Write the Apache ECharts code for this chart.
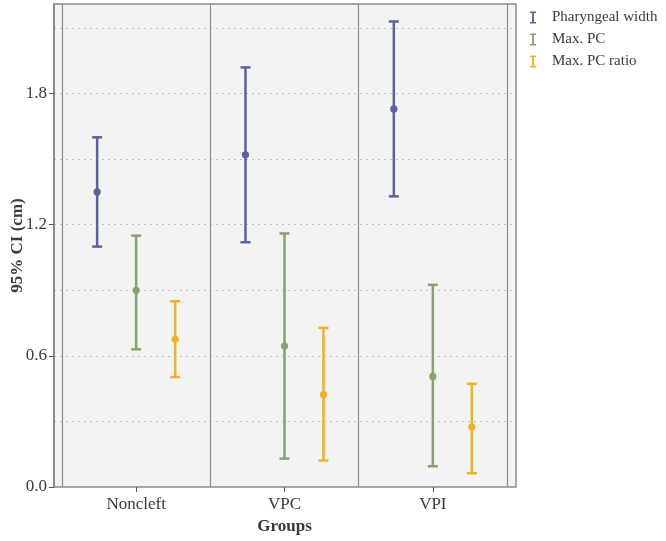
<!DOCTYPE html>
<html>
<head>
<meta charset="utf-8">
<script src="https://cdn.jsdelivr.net/npm/echarts@6/dist/echarts.min.js"></script>
<style>
  html, body { margin: 0; padding: 0; background: #fff; }
  #chart { width: 666px; height: 541px; }
</style>
</head>
<body>
<div id="chart"></div>
<script>
var groups = ['Noncleft', 'VPC', 'VPI'];
var seriesNames = ['Pharyngeal width', 'Max. PC', 'Max. PC ratio'];
var yTicks = [0, 0.6, 1.2, 1.8];

// mean, lower and upper bound of the 95% CI
var widthMean = [1.35, 1.52, 1.73];
var widthLow = [1.10, 1.12, 1.33];
var widthHigh = [1.60, 1.92, 2.13];

var pcMean = [0.90, 0.645, 0.506];
var pcLow = [0.63, 0.13, 0.095];
var pcHigh = [1.15, 1.16, 0.925];

var ratioMean = [0.676, 0.423, 0.274];
var ratioLow = [0.503, 0.121, 0.063];
var ratioHigh = [0.85, 0.728, 0.472];

var colors = ['#5b61a0', '#87a26b', '#f4b01e'];
var offsets = [-0.263, 0, 0.263];

function rows(mean, low, high) {
    return groups.map(function (g, i) {
        return [i, mean[i], low[i], high[i]];
    });
}

var allData = [
    rows(widthMean, widthLow, widthHigh),
    rows(pcMean, pcLow, pcHigh),
    rows(ratioMean, ratioLow, ratioHigh)
];

function makeRender(k) {
    return function (params, api) {
        var band = api.size([1, 0])[0];
        var dx = offsets[k] * band;
        var mid = api.coord([api.value(0), api.value(1)]);
        var lo = api.coord([api.value(0), api.value(2)]);
        var hi = api.coord([api.value(0), api.value(3)]);
        var x = mid[0] + dx;
        var cap = 5;
        var st = { stroke: colors[k], lineWidth: 2.5 };
        return {
            type: 'group',
            children: [
                { type: 'line', shape: { x1: x, y1: lo[1], x2: x, y2: hi[1] }, style: st },
                { type: 'line', shape: { x1: x - cap, y1: hi[1], x2: x + cap, y2: hi[1] }, style: st },
                { type: 'line', shape: { x1: x - cap, y1: lo[1], x2: x + cap, y2: lo[1] }, style: st },
                { type: 'circle', shape: { cx: x, cy: mid[1], r: 3.6 }, style: { fill: colors[k] } }
            ]
        };
    };
}

var series = seriesNames.map(function (name, k) {
    return {
        name: name,
        type: 'custom',
        xAxisIndex: 1,
        yAxisIndex: 2,
        itemStyle: { color: colors[k] },
        renderItem: makeRender(k),
        encode: { x: 0, y: [1, 2, 3] },
        data: allData[k],
        z: 5
    };
});

var textColor = '#3a3a3a';
var serif = 'Liberation Serif';
var ibeam = 'path://M0,0 L10,0 L10,2.4 L6.6,2.4 L6.6,17.6 L10,17.6 L10,20 L0,20 L0,17.6 L3.4,17.6 L3.4,2.4 L0,2.4 Z';

var myChart = echarts.init(document.getElementById('chart'));
var option = {
    backgroundColor: '#ffffff',
    animation: false,
    textStyle: { fontFamily: serif, color: textColor },
    legend: {
        orient: 'vertical',
        left: 525,
        top: 5,
        itemWidth: 8,
        itemHeight: 12,
        itemGap: 7,
        icon: ibeam,
        data: seriesNames,
        textStyle: { fontFamily: serif, fontSize: 15, color: textColor, padding: [0, 0, 0, 10] }
    },
    grid: [
        { left: 54, right: 150, top: 4, bottom: 54, show: true, backgroundColor: '#f3f3f3',
          borderColor: '#8c8c8c', borderWidth: 1.5, outerBoundsMode: 'none', containLabel: false },
        { left: 62, right: 159, top: 4, bottom: 54, outerBoundsMode: 'none', containLabel: false }
    ],
    xAxis: [
        { type: 'value', gridIndex: 0, show: false, min: 0, max: 1 },
        {
            type: 'category', gridIndex: 1, data: groups,
            name: 'Groups', nameLocation: 'middle', nameGap: 26,
            nameTextStyle: { fontFamily: serif, fontSize: 17, fontWeight: 'bold', color: textColor },
            axisLine: { show: false },
            axisTick: { show: true, alignWithLabel: true, length: 5, lineStyle: { color: '#555' } },
            axisLabel: { fontFamily: serif, fontSize: 17, color: textColor, margin: 9 },
            splitLine: { show: true, lineStyle: { color: '#8c8c8c', width: 1.2 } }
        }
    ],
    yAxis: [
        {
            type: 'value', gridIndex: 0, min: 0, max: 2.21, interval: 0.6,
            name: '95% CI (cm)', nameLocation: 'middle', nameGap: 28, nameMoveOverlap: false,
            nameTextStyle: { fontFamily: serif, fontSize: 17, fontWeight: 'bold', color: textColor },
            axisLine: { show: true, lineStyle: { color: '#8c8c8c', width: 2 } },
            axisTick: { show: true, length: 5, customValues: yTicks, lineStyle: { color: '#555' } },
            axisLabel: {
                fontFamily: serif, fontSize: 17, color: textColor, margin: 7,
                customValues: yTicks,
                formatter: function (v) { return v.toFixed(1); }
            },
            splitLine: { show: false }
        },
        {
            type: 'value', gridIndex: 0, min: 0, max: 2.21, interval: 0.3,
            axisLine: { show: false }, axisTick: { show: false }, axisLabel: { show: false },
            splitLine: { show: true, showMinLine: false, showMaxLine: false,
                lineStyle: { color: '#bdbdbd', type: [2, 4], width: 1.2 } }
        },
        { type: 'value', gridIndex: 1, min: 0, max: 2.21, show: false }
    ],
    series: series
};
myChart.setOption(option);

window.onresize = function () {
    myChart.resize();
};
</script>
</body>
</html>
